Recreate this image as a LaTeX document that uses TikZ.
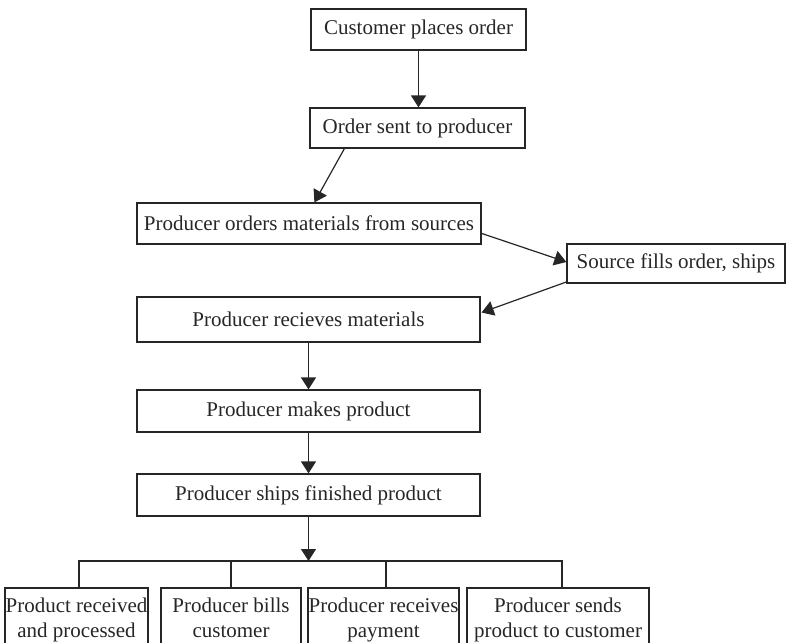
\documentclass[tikz,border=0pt]{standalone}
\usepackage{fontspec}
\setmainfont{Liberation Serif}
\usetikzlibrary{arrows.meta,calc}
\tikzset{
  box/.style={draw=black!85, line width=1.2pt, inner sep=0pt, align=center,
    font=\fontsize{21}{25}\selectfont, text=black!85},
  link/.style={draw=black!85, line width=1.2pt},
  arr/.style={link, -{Triangle[length=12pt,width=15pt]}}
}
\begin{document}
\begin{tikzpicture}[x=1pt,y=-1pt]
\useasboundingbox (0,0) rectangle (786,642);
% main chain
\node[box, minimum width=215, minimum height=41] (c1) at (418.5,29.5) {Customer places order};
\node[box, minimum width=215, minimum height=40] (c2) at (417.5,128) {Order sent to producer};
\node[box, minimum width=344, minimum height=41] (c3) at (309,223.5) {Producer orders materials from sources};
\node[box, minimum width=218, minimum height=39] (src) at (676,263.5) {Source fills order, ships};
\node[box, minimum width=343, minimum height=45] (c4) at (308.5,319.5) {Producer recieves materials};
\node[box, minimum width=343, minimum height=42] (c5) at (308.5,411) {Producer makes product};
\node[box, minimum width=343, minimum height=42] (c6) at (308.5,495) {Producer ships finished product};
% final stage, two lines each
\node[box, minimum width=143, minimum height=64] (b1) at (76.5,620) {\strut Product received\\\strut and processed};
\node[box, minimum width=140, minimum height=64] (b2) at (231,620) {\strut Producer bills\\\strut customer};
\node[box, minimum width=151, minimum height=64] (b3) at (383.5,620) {\strut Producer receives\\\strut payment};
\node[box, minimum width=182, minimum height=64] (b4) at (558,620) {\strut Producer sends\\\strut product to customer};
\coordinate (bar) at (308.5,561);
% connectors
\draw[arr] (c1.south) -- (c1.south |- c2.north);
\draw[arr] ([xshift=35pt]c2.south west) -- ([xshift=178pt]c3.north west);
\draw[arr] ($(c3.north east)+(0,31)$) -- ($(src.west)+(0,-1.5)$);
\draw[arr] ($(src.south west)+(1,-2)$) -- ($(c4.east)+(1,-7)$);
\draw[arr] (c4.south) -- (c5.north);
\draw[arr] (c5.south) -- (c6.north);
\draw[arr] (c6.south) -- (bar);
\draw[link] ([xshift=2.5pt]b1.north) |- (bar) -| ([xshift=4pt]b4.north);
\draw[link] (b2.north) -- (b2.north |- bar);
\draw[link] ([xshift=2.5pt]b3.north) -- ([xshift=2.5pt]b3.north |- bar);
\end{tikzpicture}
\end{document}
